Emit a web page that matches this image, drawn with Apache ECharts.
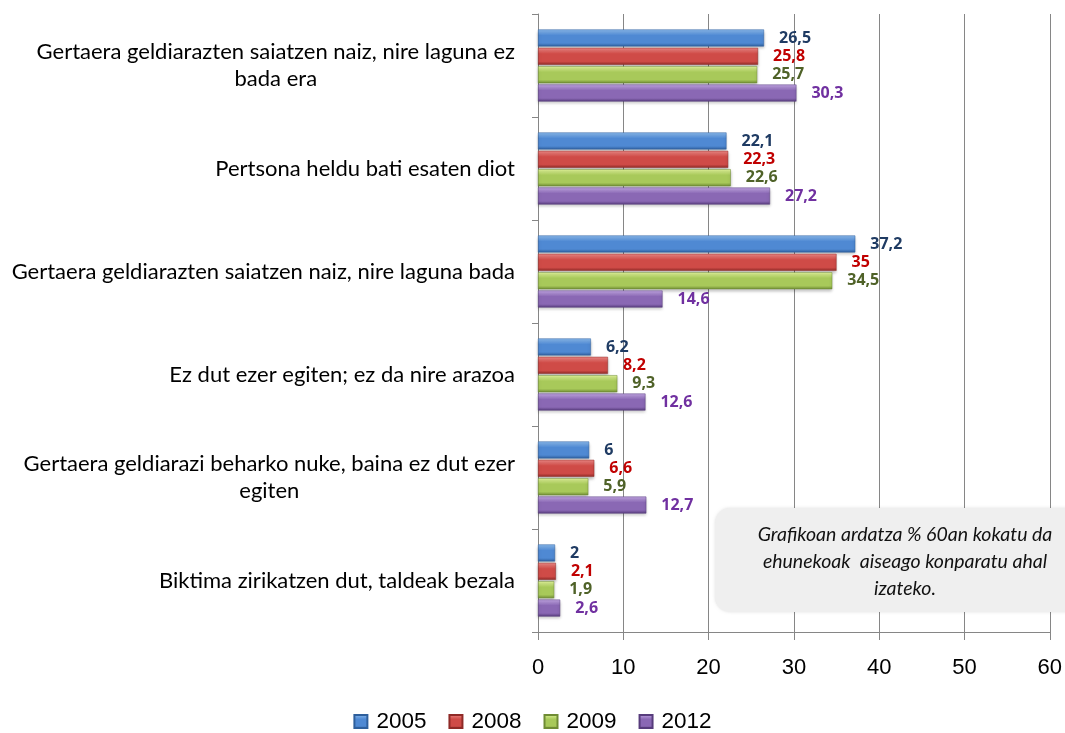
<!DOCTYPE html>
<html lang="eu">
<head>
    <meta charset="UTF-8">
    <title>Grafikoa</title>
    <style>
        html, body { margin: 0; padding: 0; background: #fff; }
    </style>
</head>
<body>
<div id="main" style="width: 1065px;height:733px;"></div>
<script src="https://cdn.jsdelivr.net/npm/echarts@6/dist/echarts.min.js"></script>
<script>
    var categories = [
        'Gertaera geldiarazten saiatzen naiz, nire laguna ez\nbada era',
        'Pertsona heldu bati esaten diot',
        'Gertaera geldiarazten saiatzen naiz, nire laguna bada',
        'Ez dut ezer egiten; ez da nire arazoa',
        'Gertaera geldiarazi beharko nuke, baina ez dut ezer\negiten',
        'Biktima zirikatzen dut, taldeak bezala'
    ];
    var years = ['2005', '2008', '2009', '2012'];
    var v2005 = [26.5, 22.1, 37.2, 6.2, 6, 2];
    var v2008 = [25.8, 22.3, 35, 8.2, 6.6, 2.1];
    var v2009 = [25.7, 22.6, 34.5, 9.3, 5.9, 1.9];
    var v2012 = [30.3, 27.2, 14.6, 12.6, 12.7, 2.6];
    var xTicks = [0, 10, 20, 30, 40, 50, 60];

    // bar gradients: light / mid / dark (bevel look)
    var barColors = [
        ['#8dbdf0', '#4f89d3', '#2e5f9c'],
        ['#f08a87', '#cf4b47', '#8f2a27'],
        ['#e2f59a', '#a8c95a', '#6f8c34'],
        ['#c4a8e6', '#8a68b4', '#573c7c']
    ];
    var labelColors = ['#1f3b63', '#c00000', '#4f6228', '#7030a0'];
    var values = [v2005, v2008, v2009, v2012];

    function grad(c) {
        return new echarts.graphic.LinearGradient(0, 0, 0, 1, [
            {offset: 0, color: c[0]},
            {offset: 0.35, color: c[1]},
            {offset: 0.8, color: c[1]},
            {offset: 1, color: c[2]}
        ]);
    }

    var series = [];
    for (var i = 0; i < years.length; i++) {
        series.push({
            name: years[i],
            type: 'bar',
            data: values[i],
            barWidth: 17,
            barGap: '8%',
            itemStyle: {
                color: grad(barColors[i]),
                borderColor: barColors[i][2],
                borderWidth: 0.5,
                shadowColor: 'rgba(0,0,0,0.25)',
                shadowBlur: 3,
                shadowOffsetY: 2
            },
            label: {
                show: true,
                position: 'right',
                distance: 15,
                color: labelColors[i],
                fontFamily: 'Open Sans',
                fontWeight: 'bold',
                fontSize: 16,
                formatter: function (p) {
                    return String(p.value).replace('.', ',');
                }
            }
        });
    }

    var myChart = echarts.init(document.getElementById('main'));

    var option = {
        animation: false,
        grid: {
            left: 538,
            right: 14,
            top: 14,
            bottom: 101
        },
        legend: {
            data: years.map(function (y, i) {
                return {name: y, itemStyle: {color: grad(barColors[i])}};
            }),
            bottom: 0,
            padding: 0,
            left: 'center',
            icon: 'rect',
            itemWidth: 13,
            itemHeight: 13,
            itemGap: 22,
            textStyle: {
                fontFamily: 'Liberation Sans',
                fontSize: 22.5,
                color: '#000',
                padding: [0, 0, 0, 4]
            }
        },
        xAxis: {
            type: 'value',
            min: 0,
            max: 60,
            interval: 10,
            axisLine: {show: true, lineStyle: {color: '#868686'}},
            axisTick: {show: true, length: 8, lineStyle: {color: '#868686'}},
            axisLabel: {
                margin: 25,
                fontFamily: 'Liberation Sans',
                fontSize: 22,
                color: '#000',
                formatter: function (v) {
                    return xTicks.indexOf(v) >= 0 ? String(v) : '';
                }
            },
            splitLine: {show: true, lineStyle: {color: '#868686'}}
        },
        yAxis: {
            type: 'category',
            inverse: true,
            data: categories,
            axisLine: {show: true, lineStyle: {color: '#868686'}},
            axisTick: {show: true, length: 6, lineStyle: {color: '#868686'}},
            axisLabel: {
                margin: 23,
                fontFamily: 'Lato',
                fontSize: 22,
                color: '#000',
                lineHeight: 27,
                formatter: function (v) {
                    return v.split('\n').map(function (s) {
                        return '{c|' + s + '}';
                    }).join('\n');
                },
                rich: {
                    c: {
                        align: 'center',
                        fontFamily: 'Lato',
                        fontSize: 22,
                        lineHeight: 27,
                        color: '#000'
                    }
                }
            }
        },
        graphic: [
            {
                type: 'rect',
                x: 715,
                y: 508,
                shape: {x: 0, y: 0, width: 370, height: 104, r: 15},
                style: {
                    fill: '#efefef',
                    shadowColor: 'rgba(0,0,0,0.12)',
                    shadowBlur: 3
                },
                z: 100
            },
            {
                type: 'text',
                x: 905,
                y: 521,
                style: {
                    text: 'Grafikoan ardatza % 60an kokatu da\nehunekoak  aiseago konparatu ahal\nizateko.',
                    align: 'center',
                    verticalAlign: 'top',
                    font: 'italic 19.5px Lato',
                    lineHeight: 27,
                    fill: '#111'
                },
                z: 101
            }
        ],
        series: series
    };

    myChart.setOption(option);
</script>
</body>
</html>
